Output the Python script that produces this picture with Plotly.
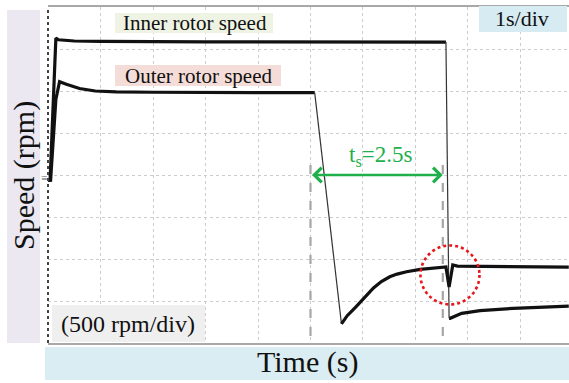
import plotly.graph_objects as go

# ---------------- data (time in s, speed in rpm) ----------------
inner_t = [0.0, 0.04, 0.15, 0.2, 0.5, 1.0, 3.0, 5.0, 7.0, 7.58]
inner_rpm = [-60, -60, 1630, 1610, 1595, 1590, 1585, 1583, 1583, 1583]

inner_drop_t = [7.58, 7.64]
inner_drop_rpm = [1583, -1706]

inner_after_t = [7.64, 7.66, 7.88, 8.23, 8.86, 9.92]
inner_after_rpm = [-1706, -1706, -1647, -1615, -1587, -1560]

outer_t = [0.0, 0.05, 0.15, 0.22, 0.35, 0.6, 0.9, 1.3, 2.0, 3.0, 4.0, 5.08]
outer_rpm = [-60, -60, 900, 1110, 1080, 1030, 1000, 990, 985, 980, 980, 980]

outer_drop_t = [5.08, 5.59]
outer_drop_rpm = [980, -1773]

outer_after_t = [5.59, 5.7, 5.87, 6.0, 6.2, 6.35, 6.51, 6.65, 6.83, 7.09, 7.53,
                 7.58, 7.64, 7.71, 7.8, 8.5, 9.92]
outer_after_rpm = [-1773, -1675, -1567, -1480, -1345, -1268, -1212, -1180, -1152, -1123, -1099,
                   -1095, -1333, -1071, -1085, -1092, -1097]

marker_times = [5.0, 7.52]          # dashed markers, ts = 2.5 s
settle_label = "t<sub>s</sub>=2.5s"
circle_center = (7.657, -1190)

x_range = [0, 9.924]
y_range = [-2000, 2000]

W, H = 569, 383
L, R, T, B = 48, 0, 7, 40
PW, PH = W - L - R, H - T - B


def px(x):
    return (x - L) / PW


def py(y):
    return (H - B - y) / PH


FONT = "Liberation Serif"

fig = go.Figure()

thick = dict(color="#111111", width=3.2)
thin = dict(color="#333333", width=1.2)

fig.add_trace(go.Scatter(x=inner_t, y=inner_rpm, mode="lines", line=thick, hoverinfo="skip"))
fig.add_trace(go.Scatter(x=inner_drop_t, y=inner_drop_rpm, mode="lines", line=thin, hoverinfo="skip"))
fig.add_trace(go.Scatter(x=inner_after_t, y=inner_after_rpm, mode="lines", line=thick, hoverinfo="skip"))
fig.add_trace(go.Scatter(x=outer_t, y=outer_rpm, mode="lines", line=thick, hoverinfo="skip"))
fig.add_trace(go.Scatter(x=outer_drop_t, y=outer_drop_rpm, mode="lines", line=thin, hoverinfo="skip"))
fig.add_trace(go.Scatter(x=outer_after_t, y=outer_after_rpm, mode="lines", line=thick, hoverinfo="skip"))

shapes = []
# y-title band (lavender)
shapes.append(dict(type="rect", xref="paper", yref="paper", x0=px(7), x1=px(40), y0=py(343), y1=py(10),
                   fillcolor="#ebe8f2", line=dict(width=0), layer="below"))
# x-title band (light blue)
shapes.append(dict(type="rect", xref="paper", yref="paper", x0=px(45), x1=px(569), y0=py(380), y1=py(347),
                   fillcolor="#daedf2", line=dict(width=0), layer="below"))
# label boxes
shapes.append(dict(type="rect", xref="paper", yref="paper", x0=px(115), x1=px(273), y0=py(33), y1=py(13),
                   fillcolor="#eef3e3", line=dict(width=0), layer="above"))
shapes.append(dict(type="rect", xref="paper", yref="paper", x0=px(115), x1=px(281), y0=py(86), y1=py(65),
                   fillcolor="#f4dcd8", line=dict(width=0), layer="above"))
shapes.append(dict(type="rect", xref="paper", yref="paper", x0=px(479), x1=px(567), y0=py(32), y1=py(6),
                   fillcolor="#d6ebf2", line=dict(width=0), layer="above"))
shapes.append(dict(type="rect", xref="paper", yref="paper", x0=px(52), x1=px(205), y0=py(342), y1=py(305),
                   fillcolor="#efefef", line=dict(width=0), layer="above"))
# left dashed axis
shapes.append(dict(type="line", xref="paper", yref="paper", x0=0, x1=0, y0=0, y1=1,
                   line=dict(color="#444444", width=2, dash="dot")))
# dashed time markers
for t in marker_times:
    shapes.append(dict(type="line", xref="x", yref="y", x0=t, x1=t, y0=120, y1=y_range[0],
                       line=dict(color="#a6a6a6", width=2.2, dash="dash")))
# red dotted circle
shapes.append(dict(type="circle", xref="x", yref="y", xsizemode="pixel", ysizemode="pixel",
                   xanchor=circle_center[0], yanchor=circle_center[1],
                   x0=-29.5, x1=29.5, y0=-29.5, y1=29.5,
                   line=dict(color="#e8161b", width=2.6, dash="dot")))

annotations = [
    dict(xref="paper", yref="paper", x=px(195), y=py(23), text="Inner rotor speed", showarrow=False,
         font=dict(family=FONT, size=21, color="#111111"), xanchor="center", yanchor="middle"),
    dict(xref="paper", yref="paper", x=px(198), y=py(75.5), text="Outer rotor speed", showarrow=False,
         font=dict(family=FONT, size=21, color="#111111"), xanchor="center", yanchor="middle"),
    dict(xref="paper", yref="paper", x=px(522), y=py(19), text="1s/div", showarrow=False,
         font=dict(family=FONT, size=22, color="#111111"), xanchor="center", yanchor="middle"),
    dict(xref="paper", yref="paper", x=px(128), y=py(324), text="(500 rpm/div)", showarrow=False,
         font=dict(family=FONT, size=24, color="#111111"), xanchor="center", yanchor="middle"),
    dict(xref="paper", yref="paper", x=px(24), y=py(176), text="Speed (rpm)", showarrow=False, textangle=-90,
         font=dict(family=FONT, size=30, color="#111111"), xanchor="center", yanchor="middle"),
    dict(xref="paper", yref="paper", x=px(307), y=py(362), text="Time (s)", showarrow=False,
         font=dict(family=FONT, size=30, color="#111111"), xanchor="center", yanchor="middle"),
    dict(xref="paper", yref="paper", x=px(44), y=py(178), text="≡", showarrow=False,
         font=dict(family=FONT, size=11, color="#555555"), xanchor="center", yanchor="middle"),
    # ts double arrow
    dict(xref="x", yref="y", x=marker_times[1], y=0, ax=marker_times[0], ay=0, axref="x", ayref="y",
         text="", showarrow=True, arrowside="end+start", arrowhead=4, startarrowhead=4,
         arrowsize=1.1, startarrowsize=1.1, arrowwidth=2.6, arrowcolor="#1fb04c"),
    dict(xref="x", yref="y", x=6.33, y=230, text=settle_label, showarrow=False,
         font=dict(family=FONT, size=23, color="#1fb04c"), xanchor="center", yanchor="middle"),
]

fig.update_layout(
    width=W, height=H,
    margin=dict(l=L, r=R, t=T, b=B, pad=0),
    paper_bgcolor="white", plot_bgcolor="white",
    showlegend=False,
    shapes=shapes,
    annotations=annotations,
    xaxis=dict(range=x_range, dtick=1, tick0=0, showticklabels=False, ticks="",
               showgrid=True, gridcolor="#cccccc", griddash="dot", gridwidth=1,
               zeroline=False, showline=True, mirror=True, linecolor="#a8a8a8", linewidth=2),
    yaxis=dict(range=y_range, dtick=500, tick0=0, showticklabels=False, ticks="",
               showgrid=True, gridcolor="#cccccc", griddash="dot", gridwidth=1,
               zeroline=False, showline=False),
)

fig.write_html("out.html")
